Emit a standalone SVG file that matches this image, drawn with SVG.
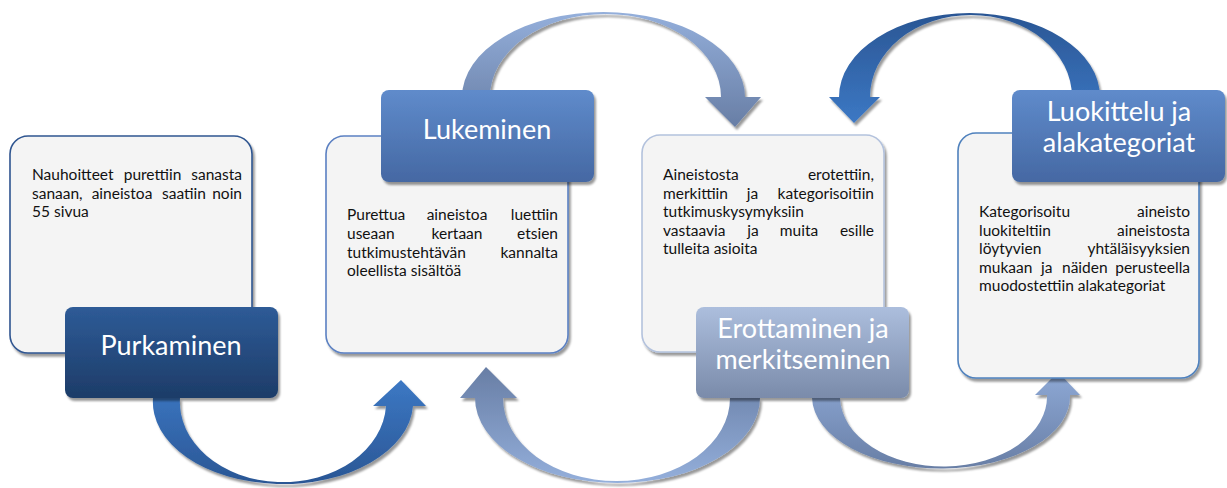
<svg xmlns="http://www.w3.org/2000/svg" width="1227" height="488" viewBox="0 0 1227 488">
<defs>
<linearGradient id="gA1" x1="0" y1="0" x2="0" y2="1"><stop offset="0" stop-color="#3c78c4"/><stop offset="1" stop-color="#2a5694"/></linearGradient>
<linearGradient id="gA2" x1="0" y1="0" x2="0" y2="1"><stop offset="0" stop-color="#94afdb"/><stop offset="1" stop-color="#687ea5"/></linearGradient>
<linearGradient id="gA3" x1="0" y1="0" x2="0" y2="1"><stop offset="0" stop-color="#687ea5"/><stop offset="1" stop-color="#94afdb"/></linearGradient>
<linearGradient id="gA4" x1="0" y1="0" x2="0" y2="1"><stop offset="0" stop-color="#8ea9d6"/><stop offset="1" stop-color="#687ea5"/></linearGradient>
<linearGradient id="gA5" x1="0" y1="0" x2="0" y2="1"><stop offset="0" stop-color="#2a5694"/><stop offset="1" stop-color="#3c78c4"/></linearGradient>
<linearGradient id="gL1" x1="0" y1="0" x2="0" y2="1"><stop offset="0" stop-color="#2e5b97"/><stop offset="1" stop-color="#1d3c68"/></linearGradient>
<linearGradient id="gL2" x1="0" y1="0" x2="0" y2="1"><stop offset="0" stop-color="#5f8bcb"/><stop offset="1" stop-color="#4568a3"/></linearGradient>
<linearGradient id="gL3" x1="0" y1="0" x2="0" y2="1"><stop offset="0" stop-color="#acbedd"/><stop offset="1" stop-color="#7a8baa"/></linearGradient>
<filter id="sh" x="-10%" y="-10%" width="130%" height="130%"><feDropShadow dx="2" dy="3" stdDeviation="1.2" flood-color="#000" flood-opacity="0.4"/></filter>
<style>
.card{fill:#f4f4f4;stroke-width:1.6;filter:url(#sh)}
.lab{filter:url(#sh)}
.lt{font-family:Lato,"Open Sans",sans-serif;font-size:27px;fill:#fff;text-anchor:middle}
.bt{font-family:Lato,"Open Sans",sans-serif;font-size:15.5px;fill:#111}
.e{text-anchor:end}
.m{text-anchor:middle}
.arr{filter:url(#sh)}
</style>
</defs>
<g id="connectors">
<path class="arr" fill="url(#gA1)" d="M153,398 A130,82 0 0 0 413,406 L426,406 L401,380 L373,406 L386,406 A103,80 0 0 1 180,398 Z"/>
<path class="arr" fill="url(#gA2)" d="M462,97 A141.5,85 0 0 1 745,97 L761,97 L735,127 L705,97 L721,97 A115.5,83 0 0 0 490,97 Z"/>
<path class="arr" fill="url(#gA3)" d="M760,398 A142.5,85 0 0 1 475,398 L460,398 L486,367 L517,398 L503,398 A113.5,83 0 0 0 730,398 Z"/>
<path class="arr" fill="url(#gA4)" d="M812,398 A129,72 0 0 0 1070,395 L1080,395 L1058,372 L1035,395 L1047,395 A103.5,70 0 0 1 840,398 Z"/>
<path class="arr" fill="url(#gA5)" d="M1100,97 A130.5,84 0 0 0 839,97 L829,97 L854,123 L880,97 L870,97 A101,82 0 0 1 1072,97 Z"/>
</g>
<g id="node1">
<rect class="card" x="10" y="136" width="242" height="217" rx="18" stroke="#2f5590"/>
<text class="bt"><tspan x="32" y="180">Nauhoitteet</tspan><tspan x="152.5" y="180" class="m">purettiin</tspan><tspan x="242" y="180" class="e">sanasta</tspan></text>
<text class="bt"><tspan x="32" y="198.5">sanaan,</tspan><tspan x="122" y="198.5" class="m">aineistoa</tspan><tspan x="184" y="198.5" class="m">saatiin</tspan><tspan x="242" y="198.5" class="e">noin</tspan></text>
<text class="bt" x="32" y="217">55 sivua</text>
<rect class="lab" x="65" y="307" width="213" height="91" rx="8" fill="url(#gL1)"/>
<text class="lt" x="171" y="355">Purkaminen</text>
</g>
<g id="node2">
<rect class="card" x="326" y="136" width="242" height="217" rx="18" stroke="#5b80c2"/>
<text class="bt"><tspan x="347" y="220">Purettua</tspan><tspan x="457" y="220" class="m">aineistoa</tspan><tspan x="558" y="220" class="e">luettiin</tspan></text>
<text class="bt"><tspan x="347" y="239">useaan</tspan><tspan x="457" y="239" class="m">kertaan</tspan><tspan x="558" y="239" class="e">etsien</tspan></text>
<text class="bt"><tspan x="347" y="257.5">tutkimustehtävän</tspan><tspan x="558" y="257.5" class="e">kannalta</tspan></text>
<text class="bt" x="347" y="276">oleellista sisältöä</text>
<rect class="lab" x="381" y="90" width="213" height="92" rx="8" fill="url(#gL2)"/>
<text class="lt" x="487" y="139">Lukeminen</text>
</g>
<g id="node3">
<rect class="card" x="642" y="135" width="242" height="217" rx="18" stroke="#b3c2dd"/>
<text class="bt"><tspan x="663" y="180">Aineistosta</tspan><tspan x="874" y="180" class="e">erotettiin,</tspan></text>
<text class="bt"><tspan x="663" y="198.5">merkittiin</tspan><tspan x="752.5" y="198.5" class="m">ja</tspan><tspan x="874" y="198.5" class="e">kategorisoitiin</tspan></text>
<text class="bt" x="663" y="217">tutkimuskysymyksiin</text>
<text class="bt"><tspan x="663" y="235.5">vastaavia</tspan><tspan x="753" y="235.5" class="m">ja</tspan><tspan x="799" y="235.5" class="m">muita</tspan><tspan x="874" y="235.5" class="e">esille</tspan></text>
<text class="bt" x="663" y="254">tulleita asioita</text>
<rect class="lab" x="696" y="307" width="213" height="91" rx="8" fill="url(#gL3)"/>
<text class="lt" x="803" y="338">Erottaminen ja</text>
<text class="lt" x="803" y="369">merkitseminen</text>
</g>
<g id="node4">
<rect class="card" x="958" y="133" width="241" height="245" rx="18" stroke="#4f81bd"/>
<text class="bt"><tspan x="979" y="217">Kategorisoitu</tspan><tspan x="1190" y="217" class="e">aineisto</tspan></text>
<text class="bt"><tspan x="979" y="235.5">luokiteltiin</tspan><tspan x="1190" y="235.5" class="e">aineistosta</tspan></text>
<text class="bt"><tspan x="979" y="254">löytyvien</tspan><tspan x="1190" y="254" class="e">yhtäläisyyksien</tspan></text>
<text class="bt"><tspan x="979" y="272.5">mukaan</tspan><tspan x="1041" y="272.5">ja</tspan><tspan x="1062" y="272.5">näiden</tspan><tspan x="1190" y="272.5" class="e">perusteella</tspan></text>
<text class="bt" x="979" y="291">muodostettiin alakategoriat</text>
<rect class="lab" x="1012" y="90" width="213" height="92" rx="8" fill="url(#gL2)"/>
<text class="lt" x="1119" y="121">Luokittelu ja</text>
<text class="lt" x="1119" y="152">alakategoriat</text>
</g>
</svg>
